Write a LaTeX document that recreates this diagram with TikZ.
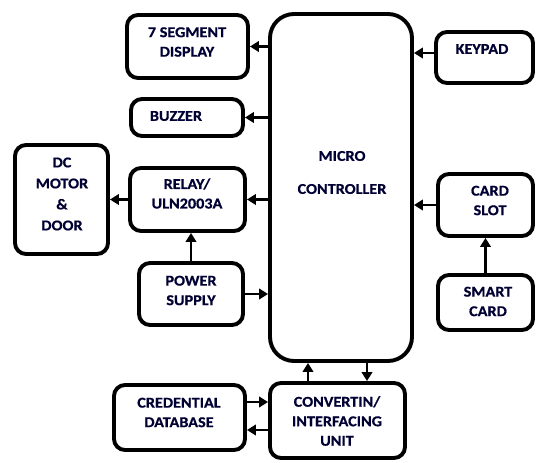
\documentclass[tikz,border=0pt]{standalone}
\usepackage{fontspec}
\setmainfont{Carlito}[FakeStretch=1.1]
\newfontfamily\heavyface{Carlito}[FakeStretch=1.08, BoldFeatures={FakeBold=0.7}]
\usetikzlibrary{arrows.meta}
\begin{document}
\begin{tikzpicture}[x=1pt,y=-1pt,
  blk/.style={draw=black, line width=3.9pt, rounded corners=11pt, inner sep=0pt},
  lbl/.style={inner sep=0pt, align=center, font=\fontsize{15}{19.5}\selectfont\heavyface\bfseries, text=black!80!blue},
  arr/.style={line width=2.9pt, -{Triangle[length=9pt,width=10.5pt]}}]
\useasboundingbox (0,0) rectangle (536,463);

% blocks
\node[blk, minimum width=121pt, minimum height=63pt] (seg) at (187.5,46.5) {};
\node[blk, minimum width=112pt, minimum height=37pt] (buzz) at (187,117.5) {};
\node[blk, minimum width=93pt, minimum height=109pt] (dc) at (61.5,199.5) {};
\node[blk, minimum width=115pt, minimum height=63pt] (relay) at (187.5,199.5) {};
\node[blk, minimum width=104pt, minimum height=62pt] (power) at (191,294) {};
\node[blk, minimum width=131pt, minimum height=65pt] (cred) at (179.5,417.5) {};
\node[blk, minimum width=135pt, minimum height=75pt] (conv) at (337.5,420.5) {};
\node[blk, minimum width=142pt, minimum height=347pt, rounded corners=24pt] (mcu) at (341,187.5) {};
\node[blk, minimum width=97pt, minimum height=51pt] (key) at (484.5,57.5) {};
\node[blk, minimum width=95pt, minimum height=62pt] (slot) at (485.5,205) {};
\node[blk, minimum width=95pt, minimum height=55pt] (smart) at (485.5,302.5) {};

% labels
\node[lbl] (tseg) at (187,42) {7 SEGMENT\\DISPLAY};
\node[lbl] (tbuzz) at (176,116) {BUZZER};
\node[lbl] (tdc) at (62,194) {DC\\[1.5pt]MOTOR\\[1.5pt]\&\\[1.5pt]DOOR};
\node[lbl] (trelay) at (187,193.5) {RELAY/\\ULN2003A};
\node[lbl] (tpower) at (191,290.5) {POWER\\SUPPLY};
\node[lbl] (tcred) at (179,412.5) {CREDENTIAL\\DATABASE};
\node[lbl] (tconv) at (337,421) {CONVERTIN/\\INTERFACING\\UNIT};
\node[lbl] (tmcu) at (342,172.5) {MICRO\\[13.5pt]CONTROLLER};
\node[lbl] (tkey) at (482,49) {KEYPAD};
\node[lbl] (tslot) at (490,200.5) {CARD\\SLOT};
\node[lbl] (tsmart) at (488,301.5) {SMART\\CARD};

% connections
\draw[arr] (mcu.west |- seg.east) -- (seg.east);
\draw[arr] (mcu.west |- buzz.east) -- (buzz.east);
\draw[arr] (mcu.west |- relay.east) -- (relay.east);
\draw[arr] (relay.west) -- (dc.east |- relay.west);
\draw[arr] (power.north) -- (relay.south -| power.north);
\draw[arr] (power.east) -- (mcu.west |- power.east);
\draw[arr] (key.west |- 0,53) -- (mcu.east |- 0,53);
\draw[arr] (slot.west) -- (mcu.east |- slot.west);
\draw[arr] (smart.north) -- (slot.south -| smart.north);
\draw[arr] (conv.north -| 308,0) -- (mcu.south -| 308,0);
\draw[arr] (mcu.south -| 367,0) -- (conv.north -| 367,0);
\draw[arr] (cred.east |- 0,402) -- (conv.west |- 0,402);
\draw[arr] (conv.west |- 0,430) -- (cred.east |- 0,430);
\end{tikzpicture}
\end{document}
